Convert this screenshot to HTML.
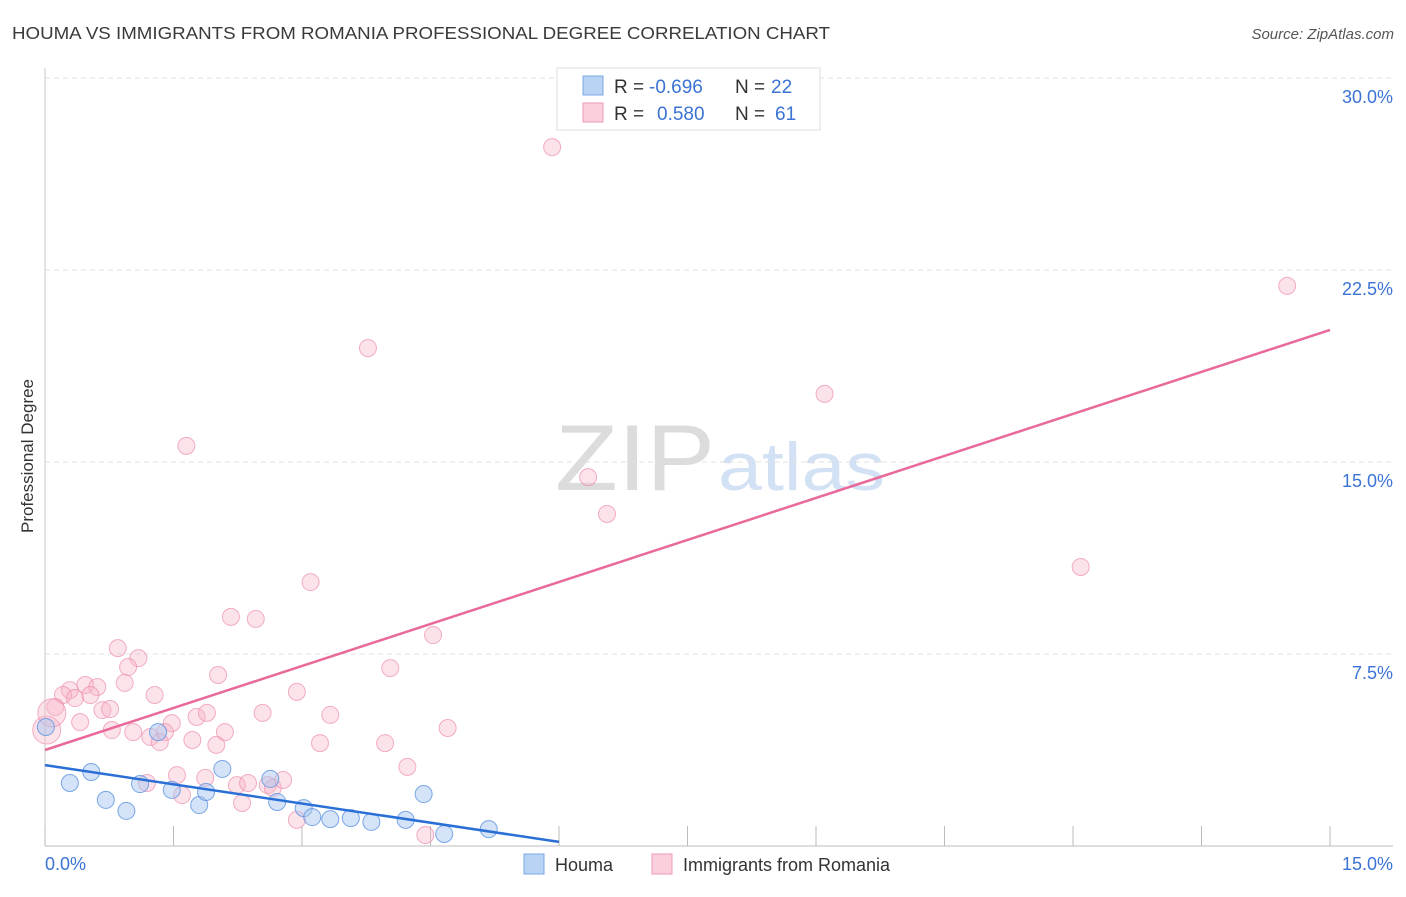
<!DOCTYPE html>
<html><head><meta charset="utf-8"><style>
body{margin:0;background:#fff;font-family:"Liberation Sans",sans-serif}
svg text{font-family:"Liberation Sans",sans-serif}
</style></head><body>
<svg id="chart" width="1406" height="892" xmlns="http://www.w3.org/2000/svg">
<text x="12" y="39" font-size="17.5" fill="#3a3a3a" textLength="818" lengthAdjust="spacingAndGlyphs">HOUMA VS IMMIGRANTS FROM ROMANIA PROFESSIONAL DEGREE CORRELATION CHART</text>
<text x="1394" y="39" font-size="15" font-style="italic" fill="#555" text-anchor="end">Source: ZipAtlas.com</text>
<text transform="translate(33,456) rotate(-90)" font-size="17" fill="#333" text-anchor="middle">Professional Degree</text>
<g>
<text x="555" y="490" font-size="94" font-family="Liberation Serif" fill="#dcdcdc" textLength="160" lengthAdjust="spacingAndGlyphs">ZIP</text>
<text x="718" y="490" font-size="68" fill="#d3e1f4" textLength="167" lengthAdjust="spacingAndGlyphs">atlas</text>
</g>
<g id="grid"></g>
<g id="axes"></g>
<g id="marks"></g>
<g>
<rect x="557" y="68" width="263" height="62" fill="#fff" stroke="#ddd"/>
<rect x="583" y="76" width="20" height="19" fill="#b9d3f5" stroke="#7aa7e6"/>
<rect x="583" y="103" width="20" height="19" fill="#fbd0dc" stroke="#ee9ab4"/>
<text x="614" y="93" font-size="19" fill="#333">R =</text>
<text x="649" y="93" font-size="19" fill="#3b73d4">-0.696</text>
<text x="735" y="93" font-size="19" fill="#333">N =</text>
<text x="771" y="93" font-size="19" fill="#3b73d4">22</text>
<text x="614" y="120" font-size="19" fill="#333">R =</text>
<text x="657" y="120" font-size="19" fill="#3b73d4">0.580</text>
<text x="735" y="120" font-size="19" fill="#333">N =</text>
<text x="775" y="120" font-size="19" fill="#3b73d4">61</text>
</g>
<g>
<rect x="524" y="854" width="20" height="20" fill="#b9d3f5" stroke="#7aa7e6"/>
<text x="555" y="871" font-size="18" fill="#333">Houma</text>
<rect x="652" y="854" width="20" height="20" fill="#fbd0dc" stroke="#ee9ab4"/>
<text x="683" y="871" font-size="18" fill="#333">Immigrants from Romania</text>
</g>
</svg>
<script>
const yTicks=[7.5,15,22.5,30];
const yTickLabels=["7.5%","15.0%","22.5%","30.0%"];
const xTicks=[0,1.5,3,4.5,6,7.5,9,10.5,12,13.5,15];
const houmaX=[0.01,0.29,0.54,0.71,0.95,1.11,1.32,1.48,1.80,1.88,2.07,2.63,2.71,3.02,3.12,3.33,3.57,3.81,4.21,4.42,4.66,5.18];
const houmaY=[4.65,2.46,2.89,1.80,1.37,2.42,4.45,2.19,1.60,2.11,3.01,2.62,1.72,1.48,1.13,1.05,1.09,0.94,1.02,2.03,0.47,0.66];
const romX=[0.85,1.09,0.97,0.93,0.47,0.61,0.29,0.21,0.35,0.53,1.28,2.02,0.67,0.76,0.12,0.41,0.78,1.03,1.48,1.40,1.23,1.34,1.77,1.89,1.72,2.10,2.00,2.54,2.94,4.03,4.53,3.33,3.21,3.97,4.70,4.23,1.19,1.54,1.87,1.60,2.24,2.37,2.30,2.60,2.66,2.78,2.94,4.44,5.92,14.50,3.77,1.65,9.10,6.34,6.56,12.09,3.10,2.17,2.46,0.02,0.08];
const romY=[7.73,7.34,6.99,6.37,6.29,6.21,6.09,5.90,5.78,5.90,5.90,6.68,5.31,5.35,5.43,4.84,4.53,4.45,4.80,4.45,4.26,4.06,5.04,5.20,4.14,4.45,3.95,5.20,6.02,6.95,8.24,5.12,4.02,4.02,4.61,3.09,2.46,2.77,2.66,1.99,2.38,2.46,1.68,2.38,2.27,2.58,1.02,0.43,27.30,21.88,19.45,15.63,17.66,14.41,12.97,10.90,10.31,8.95,8.87,4.53,5.20];
const romBig=[59,60];
const houmaTrend=[[0,3.16],[6,0.16]];
const romTrend=[[0,3.75],[15,20.16]];
const NS="http://www.w3.org/2000/svg";
const X=v=>45+v*(1285/15);
const Y=v=>846-v*(768/30);
function mk(t,a,p){const e=document.createElementNS(NS,t);for(const k in a)e.setAttribute(k,a[k]);p.appendChild(e);return e;}
const grid=document.getElementById('grid'),axes=document.getElementById('axes'),marks=document.getElementById('marks');
yTicks.forEach((t,i)=>{
 const l=mk('line',{x1:45,x2:1393,y1:Y(t),y2:Y(t),stroke:'#e0e0e0','stroke-dasharray':'5,4'},grid);
 
 
 const tx=mk('text',{x:1393,y:Y(t)+25,'font-size':18,fill:'#3b73d4','text-anchor':'end'},axes);
 tx.textContent=yTickLabels[i];
 
 
});
const ya=mk('line',{x1:45,x2:45,y1:68,y2:846,stroke:'#c8c8c8'},axes);


const xa=mk('line',{x1:45,x2:1393,y1:846,y2:846,stroke:'#bbb'},axes);


xTicks.forEach(t=>{
 const l=mk('line',{x1:X(t),x2:X(t),y1:826,y2:846,stroke:'#bbb'},axes);
 
 
});
const xl0=mk('text',{x:45,y:870,'font-size':18,fill:'#3b73d4'},axes);xl0.textContent='0.0%';


const xl1=mk('text',{x:1393,y:870,'font-size':18,fill:'#3b73d4','text-anchor':'end'},axes);xl1.textContent='15.0%';


romX.forEach((v,i)=>{
 const big=romBig.includes(i);
 const c=mk('circle',{cx:X(v),cy:Y(romY[i]),r:big?14:8.5,fill:'#f7b6c9','fill-opacity':0.4,stroke:'#ec8fae','stroke-opacity':0.7},marks);
 
 
});
houmaX.forEach((v,i)=>{
 const c=mk('circle',{cx:X(v),cy:Y(houmaY[i]),r:8.5,fill:'#a9c8f0','fill-opacity':0.5,stroke:'#5c92e0','stroke-opacity':0.8},marks);
 
 
});
const rl=mk('line',{x1:X(romTrend[0][0]),y1:Y(romTrend[0][1]),x2:X(romTrend[1][0]),y2:Y(romTrend[1][1]),stroke:'#e8699a','stroke-width':2.5},marks);


const hl=mk('line',{x1:X(houmaTrend[0][0]),y1:Y(houmaTrend[0][1]),x2:X(houmaTrend[1][0]),y2:Y(houmaTrend[1][1]),stroke:'#2a6fd6','stroke-width':2.5},marks);


</script>
</body></html>
